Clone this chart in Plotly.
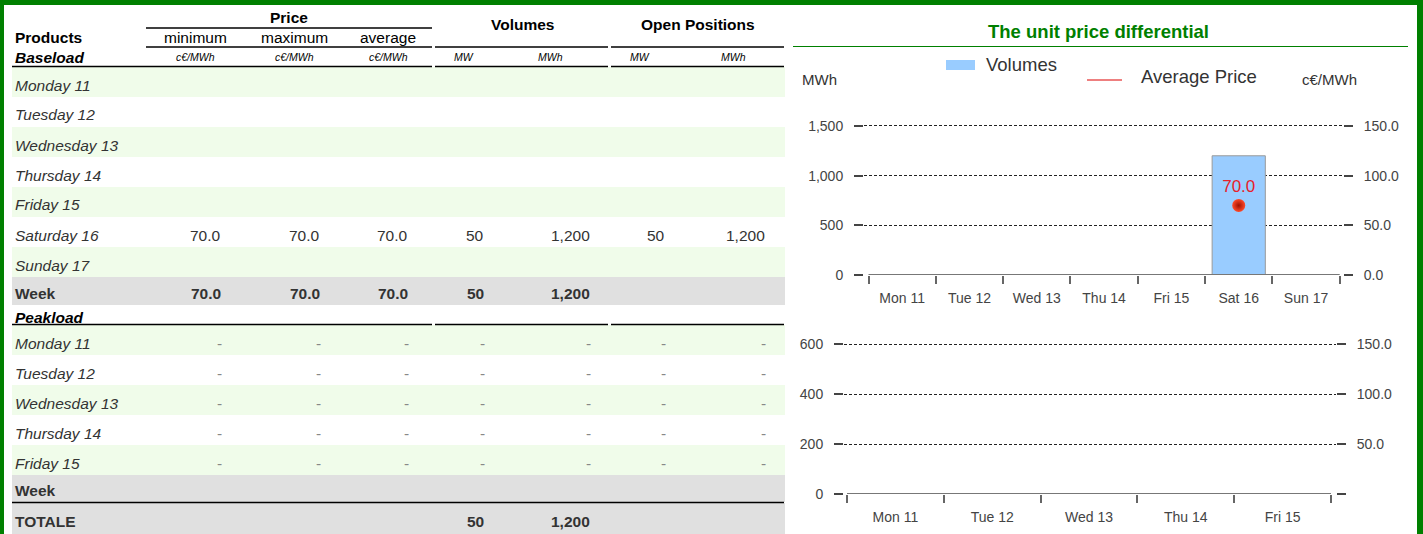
import plotly.graph_objects as go

W, H = 1423, 534

# ---------------- data ----------------
day_names = ["Monday 11", "Tuesday 12", "Wednesday 13", "Thursday 14",
             "Friday 15", "Saturday 16", "Sunday 17"]
day_ticks = ["Mon 11", "Tue 12", "Wed 13", "Thu 14", "Fri 15", "Sat 16", "Sun 17"]
peak_names = ["Monday 11", "Tuesday 12", "Wednesday 13", "Thursday 14", "Friday 15"]
peak_ticks = ["Mon 11", "Tue 12", "Wed 13", "Thu 14", "Fri 15"]

# Baseload columns
base_price_min = [None, None, None, None, None, 70.0, None]
base_price_max = [None, None, None, None, None, 70.0, None]
base_price_avg = [None, None, None, None, None, 70.0, None]
base_vol_mw = [None, None, None, None, None, 50, None]
base_vol_mwh = [None, None, None, None, None, 1200, None]
base_open_mw = [None, None, None, None, None, 50, None]
base_open_mwh = [None, None, None, None, None, 1200, None]
base_week = [70.0, 70.0, 70.0, 50, 1200, None, None]

# Peakload columns (no trades)
peak_price_min = [None, None, None, None, None]
peak_price_max = [None, None, None, None, None]
peak_price_avg = [None, None, None, None, None]
peak_vol_mw = [None, None, None, None, None]
peak_vol_mwh = [None, None, None, None, None]
peak_open_mw = [None, None, None, None, None]
peak_open_mwh = [None, None, None, None, None]
peak_week = [None, None, None, None, None, None, None]

totale = [None, None, None, 50, 1200, None, None]

price_sub = ["minimum", "maximum", "average"]
units = ["c€/MWh", "c€/MWh", "c€/MWh", "MW", "MWh", "MW", "MWh"]

# axis tick values
base_vol_ticks = [0, 500, 1000, 1500]
peak_vol_ticks = [0, 200, 400, 600]
price_ticks = [0, 50, 100, 150]

# ---------------- styling ----------------
FONT = "Liberation Sans, Arial, sans-serif"
GREEN = "#008000"
BAND_GREEN = "#F0FCEA"
BAND_GRAY = "#E0E0E0"
TXT = "#333333"

col_right = [223, 322, 410, 486, 592, 667, 767]      # right edges of value columns (px)
col_center = [195, 294, 388, 464, 550, 640, 733]     # header centres (px)
col_fmt = [".1f", ".1f", ".1f", ",d", ",d", ",d", ",d"]
TABLE_L, TABLE_R = 12, 785
LABEL_X = 13


def px(x):
    return x / W


def py(y):
    return 1 - y / H


annotations = []
shapes = []


def text(s, x, y, anchor="left", size=15.5, color=TXT, family=FONT):
    annotations.append(dict(text=s, x=px(x), y=py(y), xref="paper", yref="paper",
                            xanchor=anchor, yanchor="middle", showarrow=False,
                            font=dict(family=family, size=size, color=color)))


def rect(x0, x1, y0, y1, color, layer="below"):
    shapes.append(dict(type="rect", xref="paper", yref="paper", x0=px(x0), x1=px(x1),
                       y0=py(y1), y1=py(y0), fillcolor=color, line=dict(width=0),
                       layer=layer))


def hline(x0, x1, y, color="#000000", width=1.3):
    shapes.append(dict(type="line", xref="paper", yref="paper", x0=px(x0), x1=px(x1),
                       y0=py(y), y1=py(y), line=dict(color=color, width=width)))


def fmt(v, f):
    if v is None:
        return ""
    return format(v, f)


# ---------------- table header ----------------
text("<b>Price</b>", 289, 18, "center", color="#000")
text("<b>Volumes</b>", 522, 24, "center", color="#000")
text("<b>Open Positions</b>", 698, 24, "center", color="#000")
text("<b>Products</b>", LABEL_X, 38, color="#000")
for i, s in enumerate(price_sub):
    text(s, col_center[i], 38, "center", color="#000")
text("<b><i>Baseload</i></b>", LABEL_X, 57, color="#000")
for i, u in enumerate(units):
    text("<i>" + u + "</i>", col_center[i], 57, "center", size=10.5, color="#000")

hline(146, 432, 28)
for (a, b) in [(146, 432), (435, 608), (611, 784)]:
    hline(a, b, 47)
for (a, b) in [(TABLE_L, 432), (435, 608), (611, 784)]:
    hline(a, b, 66.5)

# ---------------- baseload rows ----------------
base_cols = [base_price_min, base_price_max, base_price_avg, base_vol_mw,
             base_vol_mwh, base_open_mw, base_open_mwh]
ROW_H = 30
top = 67
for i, name in enumerate(day_names):
    y0 = top + ROW_H * i
    if i % 2 == 0:
        rect(TABLE_L, TABLE_R, y0, y0 + ROW_H, BAND_GREEN)
    yc = y0 + ROW_H / 2 + 3
    text("<i>" + name + "</i>", LABEL_X, yc)
    for c, col in enumerate(base_cols):
        s = fmt(col[i], col_fmt[c])
        if s:
            text(s, col_right[c], yc, "right")
y0 = top + ROW_H * len(day_names)
rect(TABLE_L, TABLE_R, y0, y0 + 28, BAND_GRAY)
yc = y0 + 14 + 2
text("<b>Week</b>", LABEL_X, yc)
for c, v in enumerate(base_week):
    s = fmt(v, col_fmt[c])
    if s:
        text("<b>" + s + "</b>", col_right[c], yc, "right")

# ---------------- peakload rows ----------------
y0 = y0 + 28
text("<b><i>Peakload</i></b>", LABEL_X, y0 + 12, color="#000")
for (a, b) in [(TABLE_L, 432), (435, 608), (611, 784)]:
    hline(a, b, y0 + 19.5)
peak_cols = [peak_price_min, peak_price_max, peak_price_avg, peak_vol_mw,
             peak_vol_mwh, peak_open_mw, peak_open_mwh]
top = y0 + 20
for i, name in enumerate(peak_names):
    r0 = top + ROW_H * i
    if i % 2 == 0:
        rect(TABLE_L, TABLE_R, r0, r0 + ROW_H, BAND_GREEN)
    yc = r0 + ROW_H / 2 + 3
    text("<i>" + name + "</i>", LABEL_X, yc)
    for c, col in enumerate(peak_cols):
        s = fmt(col[i], col_fmt[c]) or "-"
        text(s, col_right[c] + 1, yc, "right", color="#888")
r0 = top + ROW_H * len(peak_names)
rect(TABLE_L, TABLE_R, r0, r0 + 27, BAND_GRAY)
yc = r0 + 13.5 + 2
text("<b>Week</b>", LABEL_X, yc)
for c, v in enumerate(peak_week):
    s = fmt(v, col_fmt[c])
    if s:
        text("<b>" + s + "</b>", col_right[c], yc, "right")
r0 = r0 + 27
hline(TABLE_L, 784, r0 + 0.5, width=1.5)
rect(TABLE_L, TABLE_R, r0 + 1, H, BAND_GRAY)
yc = r0 + 16 + 3
text("<b>TOTALE</b>", LABEL_X, yc)
for c, v in enumerate(totale):
    s = fmt(v, col_fmt[c])
    if s:
        text("<b>" + s + "</b>", col_right[c], yc, "right")

# ---------------- chart decorations ----------------
text("<b>The unit price differential</b>", 1098, 31, "center", size=18.5, color=GREEN)
hline(793, 1408, 46.5, color=GREEN, width=1.2)
text("MWh", 800, 79, size=15)
text("c€/MWh", 1300, 79, size=15)
text("Volumes", 984, 65, size=18.5)
text("Average Price", 1139, 76, size=18.5)
rect(946, 975, 60, 70, "#99CCFF", layer="above")
hline(1087, 1122, 80, color="#dd0000", width=1)

# green frame
rect(0, W, 0, 5, GREEN, layer="above")
rect(0, 4, 0, H, GREEN, layer="above")
rect(1417, W, 0, H, GREEN, layer="above")

# ---------------- charts ----------------
fig = go.Figure()
fig.add_trace(go.Bar(x=day_ticks, y=base_vol_mwh, xaxis="x", yaxis="y", width=0.79,
                     marker=dict(color="#99CCFF", line=dict(color="#9a9a9a", width=1)),
                     showlegend=False, hoverinfo="skip"))
fig.add_trace(go.Scatter(x=day_ticks, y=base_price_avg, xaxis="x", yaxis="y2",
                         mode="markers+text",
                         text=[fmt(v, ".1f") for v in base_price_avg],
                         textposition="top center",
                         textfont=dict(family=FONT, size=17, color="#e8202a"),
                         marker=dict(size=13, color="#ff4a2a",
                                     gradient=dict(type="radial", color="#a01000")),
                         showlegend=False, hoverinfo="skip"))
fig.add_trace(go.Bar(x=peak_ticks, y=peak_vol_mwh, xaxis="x2", yaxis="y3",
                     marker=dict(color="#99CCFF"), showlegend=False, hoverinfo="skip"))
fig.add_trace(go.Scatter(x=peak_ticks, y=peak_price_avg, xaxis="x2", yaxis="y4",
                         mode="markers", marker=dict(color="#ff4a2a"),
                         showlegend=False, hoverinfo="skip"))

# baselines drawn in data coordinates along the category span
shapes.append(dict(type="line", xref="x", yref="y", x0=-0.5, x1=len(day_ticks) - 0.5,
                   y0=0, y1=0, line=dict(color="#777", width=2)))
shapes.append(dict(type="line", xref="x2", yref="y3", x0=-0.5, x1=len(peak_ticks) - 0.5,
                   y0=0, y1=0, line=dict(color="#777", width=2)))

tick_font = dict(family=FONT, size=14, color="#444")
xcommon = dict(type="category", tickson="boundaries", ticks="outside", ticklen=8,
               tickwidth=1.5, tickcolor="#666", showgrid=False, showline=False,
               zeroline=False, tickfont=tick_font, ticklabelstandoff=13,
               fixedrange=True, automargin=False)
ycommon = dict(ticks="outside", ticklen=9, tickwidth=2, tickcolor="#444",
               zeroline=False, showline=False, tickfont=tick_font,
               ticklabelstandoff=8, fixedrange=True, automargin=False)
grid = dict(showgrid=True, gridcolor="#222", griddash="3px,2px", gridwidth=1.2)

# the top of each value range sits a few pixels above the highest tick so that
# its grid line is drawn (plotly hides grid lines lying on the plot edge)
fig.update_layout(
    template="none",
    width=W, height=H, autosize=False,
    margin=dict(l=0, r=0, t=0, b=0, pad=0, autoexpand=False),
    paper_bgcolor="white", plot_bgcolor="rgba(0,0,0,0)",
    font=dict(family=FONT),
    showlegend=False,
    xaxis=dict(domain=[px(864), px(1343)], anchor="y", range=[-0.567, 6.549],
               categoryorder="array", categoryarray=day_ticks, **xcommon),
    yaxis=dict(domain=[py(275), py(123)], anchor="x", range=[0, 1530],
               tickvals=base_vol_ticks, tickformat=",", **grid, **ycommon),
    yaxis2=dict(overlaying="y", side="right", anchor="x", range=[0, 153],
                tickvals=price_ticks, tickformat=".1f", showgrid=False, **ycommon),
    xaxis2=dict(domain=[px(844), px(1336)], anchor="y3", range=[-0.531, 4.552],
                categoryorder="array", categoryarray=peak_ticks, **xcommon),
    yaxis3=dict(domain=[py(494), py(341)], anchor="x2", range=[0, 612],
                tickvals=peak_vol_ticks, tickformat=",", **grid, **ycommon),
    yaxis4=dict(overlaying="y3", side="right", anchor="x2", range=[0, 153],
                tickvals=price_ticks,
                ticktext=[""] + [format(v, ".1f") for v in price_ticks[1:]],
                showgrid=False, **ycommon),
    shapes=shapes,
    annotations=annotations,
)

fig.write_html("out.html", config={"displayModeBar": False},
               post_script="document.body.style.margin='0';document.body.style.overflow='hidden';")
